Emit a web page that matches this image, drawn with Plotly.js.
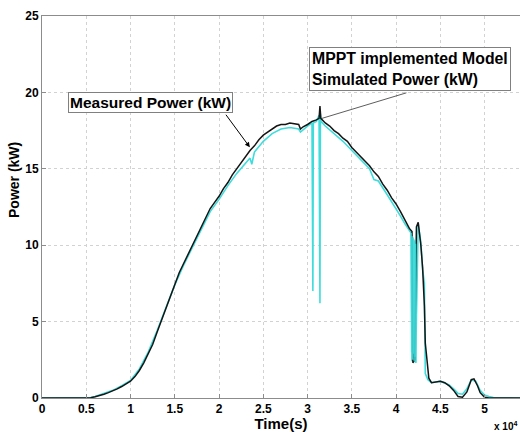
<!DOCTYPE html>
<html>
<head>
<meta charset="utf-8">
<script src="https://cdn.plot.ly/plotly-3.0.1.min.js"></script>
<style>html,body{margin:0;padding:0;background:#fff;}#chart{width:520px;height:432px;}</style>
</head>
<body>
<div id="chart"></div>
<script>
// Time in units of 10^4 s, power in kW
const measX = [0,0.5,0.55,0.6,0.65,0.7,0.75,0.8,0.85,0.9,0.95,1.0,1.05,1.1,1.15,1.2,1.25,1.3,1.35,1.4,1.45,1.5,1.55,1.6,1.65,1.7,1.75,1.8,1.85,1.9,1.95,2.0,2.05,2.1,2.15,2.2,2.25,2.3,2.35,2.4,2.45,2.5,2.55,2.6,2.65,2.7,2.75,2.8,2.85,2.9,2.92,2.95,3.0,3.05,3.1,3.13,3.14,3.15,3.2,3.25,3.3,3.35,3.4,3.45,3.5,3.55,3.6,3.65,3.7,3.75,3.8,3.85,3.9,3.95,4.0,4.05,4.1,4.15,4.18,4.19,4.21,4.23,4.25,4.28,4.3,4.32,4.33,4.35,4.37,4.4,4.45,4.5,4.55,4.6,4.65,4.7,4.75,4.8,4.85,4.88,4.92,4.95,5.0,5.05,5.4];
const measY = [0,0,0.02,0.08,0.15,0.25,0.35,0.45,0.6,0.75,0.9,1.1,1.4,1.8,2.3,2.9,3.5,4.3,5.1,5.9,6.7,7.5,8.2,8.8,9.4,10.0,10.6,11.2,11.8,12.4,12.8,13.2,13.7,14.1,14.6,15.0,15.4,15.8,16.2,16.5,16.9,17.2,17.4,17.6,17.8,17.9,17.9,18.0,17.95,17.9,17.6,17.75,17.9,18.1,18.2,18.3,19.1,18.3,18.0,17.8,17.5,17.3,17.0,16.8,16.4,16.1,15.8,15.5,15.2,14.8,14.5,14.0,13.6,13.1,12.7,12.2,11.6,11.1,10.9,2.3,2.5,11.2,11.5,10.0,8.5,6.0,3.6,2.5,1.3,1.0,1.05,1.1,1.0,0.8,0.5,0.1,0.05,0.4,1.2,1.25,0.8,0.35,0.05,0,0];
const simX = [0,0.5,0.55,0.6,0.7,0.8,0.9,1.0,1.1,1.2,1.3,1.4,1.5,1.6,1.7,1.8,1.9,2.0,2.1,2.2,2.3,2.35,2.37,2.4,2.5,2.6,2.7,2.8,2.9,2.92,3.0,3.05,3.06,3.065,3.1,3.13,3.14,3.145,3.15,3.2,3.3,3.4,3.5,3.6,3.7,3.75,3.8,3.9,4.0,4.05,4.1,4.15,4.17,4.18,4.19,4.2,4.21,4.22,4.25,4.28,4.3,4.32,4.33,4.36,4.4,4.5,4.6,4.65,4.7,4.75,4.8,4.85,4.9,4.95,5.0,5.05,5.1,5.4];
const simY = [0,0,0.03,0.1,0.28,0.5,0.8,1.15,1.9,3.0,4.4,5.9,7.4,8.7,9.9,11.1,12.2,13.0,13.9,14.7,15.4,15.7,15.3,16.1,16.8,17.3,17.6,17.7,17.6,17.4,17.8,18.0,7.0,18.0,18.1,18.5,6.2,18.6,18.1,17.8,17.3,16.8,16.2,15.6,15.0,14.3,14.2,13.3,12.4,11.9,11.4,11.0,10.8,2.4,10.5,2.6,10.3,2.3,11.4,10.2,8.4,7.5,1.6,1.2,1.0,1.1,0.85,0.6,0.3,0.25,0.6,1.2,1.1,0.5,0.2,0.1,0.03,0];
// oscillating band of the simulated power near 4.2 x 10^4 s (drawn above the measured line)
const simBandX = [4.17,4.175,4.18,4.185,4.19,4.195,4.2,4.205,4.21,4.215,4.22,4.225];
const simBandY = [10.8,3.0,10.6,2.5,10.5,2.9,10.4,2.4,10.3,2.7,10.1,2.3];
const xTicks = [0,0.5,1,1.5,2,2.5,3,3.5,4,4.5,5];
const yTicks = [0,5,10,15,20,25];

const fontFam = 'Liberation Sans, Arial, sans-serif';
const cyan = '#3fdcdc';
const traces = [
  {x: simX, y: simY, type: 'scatter', mode: 'lines', line: {color: cyan, width: 1.6}, hoverinfo: 'skip'},
  {x: measX, y: measY, type: 'scatter', mode: 'lines', line: {color: '#151515', width: 1.5}, hoverinfo: 'skip'},
  {x: simBandX, y: simBandY, type: 'scatter', mode: 'lines', line: {color: cyan, width: 1.4}, opacity: 0.9, hoverinfo: 'skip'}
];
const axisCommon = {
  showline: true, mirror: true, linecolor: '#8c8c8c', linewidth: 1,
  ticks: 'inside', ticklen: 4, tickcolor: '#8c8c8c',
  showgrid: true, gridcolor: '#d2d2d2', griddash: 'dot', gridwidth: 1,
  zeroline: false,
  tickfont: {family: fontFam, size: 12, color: '#000', weight: 'bold'}
};
const layout = {
  width: 520, height: 432,
  margin: {l: 42, r: 0, t: 16, b: 34},
  paper_bgcolor: '#fff', plot_bgcolor: '#fff',
  showlegend: false,
  xaxis: Object.assign({}, axisCommon, {
    range: [0, 5.4], tickvals: xTicks, ticktext: xTicks.map(String),
    title: {text: 'Time(s)', font: {family: fontFam, size: 15, color: '#000', weight: 'bold'}, standoff: 0}
  }),
  yaxis: Object.assign({}, axisCommon, {
    range: [0, 25], tickvals: yTicks, ticktext: yTicks.map(String)
  }),
  annotations: [
    {xref: 'paper', yref: 'paper', x: -0.057, y: 0.57, xanchor: 'center', yanchor: 'middle', text: 'Power (kW)', textangle: -90, showarrow: false,
     font: {family: fontFam, size: 14, color: '#000', weight: 'bold'}},
    {xref: 'paper', yref: 'paper', x: 0.941, y: -0.073, xanchor: 'left', yanchor: 'middle', text: 'x 10<sup>4</sup>', showarrow: false,
     font: {family: fontFam, size: 10, color: '#000', weight: 'bold'}},
    {xref: 'x', yref: 'y', x: 0.29, y: 20.0, xanchor: 'left', yanchor: 'top', text: 'Measured Power (kW)', showarrow: false,
     bgcolor: '#fff', bordercolor: '#808080', borderwidth: 1, borderpad: 1,
     font: {family: fontFam, size: 15.5, color: '#000', weight: 'bold'}},
    {xref: 'x', yref: 'y', x: 2.348, y: 16.41, ax: -25, ay: -34, text: '', showarrow: true,
     arrowhead: 2, arrowsize: 1, arrowwidth: 1, arrowcolor: '#000'},
    {xref: 'x', yref: 'y', x: 3.018, y: 23.0, xanchor: 'left', yanchor: 'top', align: 'left',
     text: 'MPPT implemented Model<br>Simulated Power (kW)', showarrow: false,
     bgcolor: '#fff', bordercolor: '#808080', borderwidth: 1, borderpad: 2,
     font: {family: fontFam, size: 15.8, color: '#000', weight: 'bold'}},
    {xref: 'x', yref: 'y', x: 3.162, y: 18.3, ax: 86, ay: -26, text: '', showarrow: true,
     arrowhead: 0, arrowwidth: 0.8, arrowcolor: '#333'}
  ]
};
Plotly.newPlot('chart', traces, layout, {staticPlot: true, displayModeBar: false});
</script>
</body>
</html>
